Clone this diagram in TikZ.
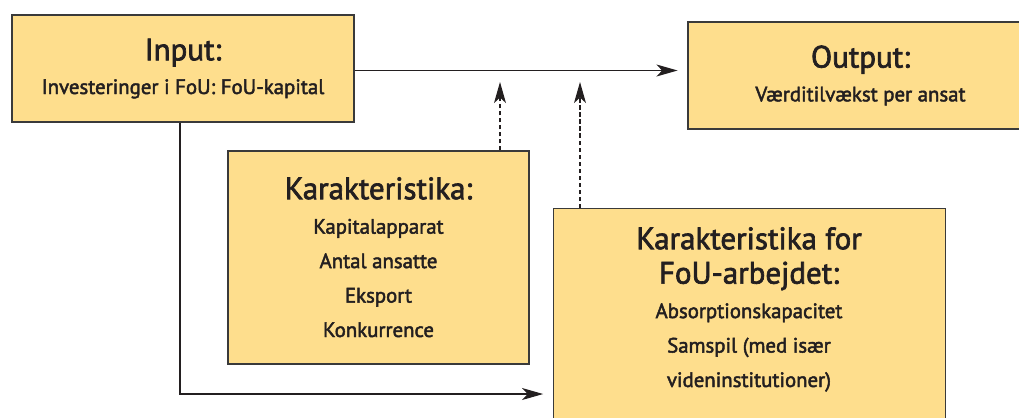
\documentclass[tikz,border=0pt]{standalone}
\usepackage{fontspec}
\setmainfont{PT Sans}[UprightFeatures={FakeBold=2.2}]
\usepackage{xcolor}
\usepackage{tikz}
\usetikzlibrary{arrows.meta,positioning,calc}
\definecolor{ink}{HTML}{231F20}
\definecolor{edge}{HTML}{3A3A3A}
\definecolor{cyellow}{HTML}{FEDE8D}
\newcommand{\hd}[1]{{\fontsize{22}{24}\selectfont #1}}
\tikzset{
  every node/.style={text=ink},
  % yellow frame, size given per node in pixels of the reference
  frame/.style={draw=edge, fill=cyellow, line width=0.8pt, inner sep=0pt, align=center,
                font=\fontsize{14.8}{24}\selectfont},
  body/.style={font=\fontsize{14.8}{24.5}\selectfont, align=center, inner sep=0pt},
  arr/.style={-{Stealth[length=15pt,width=8.5pt,inset=4pt]}, line width=0.8pt, color=ink},
  darr/.style={arr, dash pattern=on 3pt off 2pt},
}

\begin{document}
\begin{tikzpicture}[x=0.025cm,y=-0.025cm]
  \useasboundingbox (0,0) rectangle (1019,417);

  \node[frame, minimum width=342*0.025cm, minimum height=107*0.025cm] (inp) at (183,68.5)
        {\hd{Input:}\\Investeringer i FoU: FoU-kapital};
  \node[frame, minimum width=345*0.025cm, minimum height=107*0.025cm] (outp) at (860.5,75.5)
        {\hd{Output:}\\Værditilvækst per ansat};
  \node[frame, minimum width=301*0.025cm, minimum height=213*0.025cm] (kar) at (378.5,257.5) {};
  \node[body, anchor=north] (kartxt) at (378.5,177)
        {\hd{Karakteristika:}\\Kapitalapparat\\Antal ansatte\\Eksport\\Konkurrence};
  \node[frame, minimum width=392*0.025cm, minimum height=240*0.025cm, anchor=north west] (fou) at (553,208) {};
  \node[body, anchor=north] (foutxt) at (749,227)
        {\hd{Karakteristika for}\\\hd{FoU-arbejdet:}\\Absorptionskapacitet\\Samspil (med især\\videninstitutioner)};

  \coordinate (mainy) at (0,70.5);
  \coordinate (tipy) at (0,82);
  \coordinate (lowy) at (0,394);
  \draw[arr, shorten >=7pt] (inp.east |- mainy) -- (outp.west |- mainy);
  \draw[darr] (kar.north -| 500,0) -- (500,0 |- tipy);
  \draw[darr] (fou.north -| 580,0) -- (580,0 |- tipy);
  \draw[arr, shorten >=7pt] (inp.south -| 180,0) |- (fou.west |- lowy);
\end{tikzpicture}
\end{document}
